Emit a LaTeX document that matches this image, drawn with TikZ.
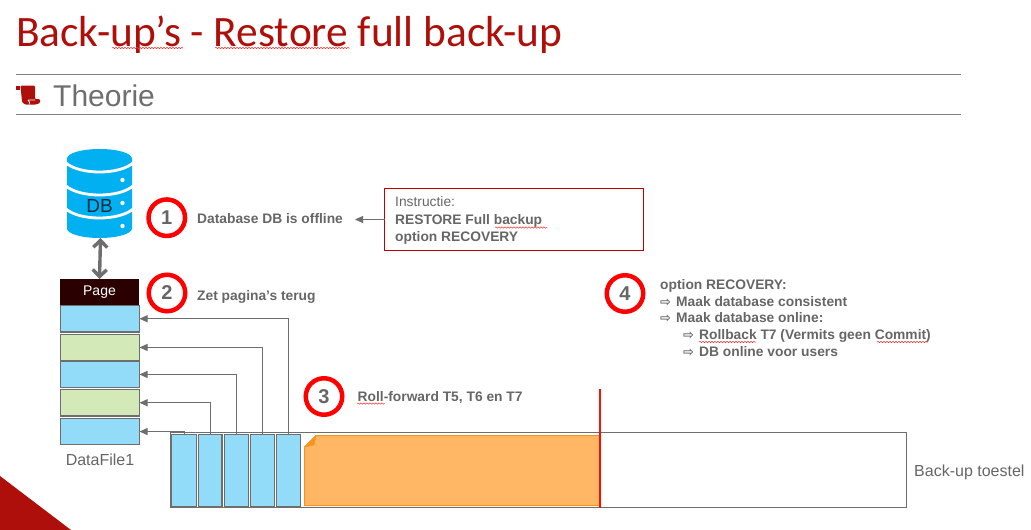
\documentclass[tikz,border=0pt]{standalone}
\usepackage{fontspec}
\setmainfont{Liberation Sans}
\newfontfamily\titlefont{Carlito}
\newfontfamily\symfont{DejaVu Sans}
\usetikzlibrary{arrows.meta,decorations.pathmorphing}
\definecolor{txtgray}{HTML}{666666}
\definecolor{linegray}{HTML}{6E6E6E}
\definecolor{rulegray}{HTML}{808080}
\definecolor{darkred}{HTML}{AE0F0A}
\definecolor{dbblue}{HTML}{00B0F0}
\definecolor{pageblue}{HTML}{92DCF9}
\definecolor{pagegreen}{HTML}{D3EAB8}
\definecolor{orangefill}{HTML}{FFB766}
\definecolor{orangeline}{HTML}{F7931E}
\definecolor{pagedark}{HTML}{2B0000}
\definecolor{boxred}{HTML}{C00000}
\newcommand{\fs}[1]{\fontsize{#1}{#1}\selectfont}
\newcommand{\ar}{\makebox[16pt][l]{\symfont\fs{13}⇨}}
\tikzset{
  pagebox/.style={draw=linegray,line width=1.2pt,outer sep=0pt,anchor=north west,inner sep=0pt,minimum width=79pt,minimum height=26.5pt},
  barbox/.style={draw=linegray,line width=1.3pt,outer sep=0pt,fill=pageblue,anchor=north west,inner sep=0pt,minimum height=72.3pt},
  stepcircle/.style={circle,draw=red,line width=4.5pt,fill=white,minimum size=36.5pt,inner sep=0pt,text=txtgray,font=\bfseries\fs{20}},
  lbl/.style={anchor=base west,inner sep=0pt,text=txtgray,font=\bfseries\fs{13.8}},
  flow/.style={draw=linegray,line width=1pt,-{Triangle[length=8pt,width=7pt]}},
  squig/.style={draw=red!80!white,line width=0.5pt,decorate,decoration={snake,amplitude=0.7pt,segment length=3pt}},
  rule/.style={draw=rulegray,line width=1pt}
}
\begin{document}
\begin{tikzpicture}[x=1pt,y=-1pt]
\useasboundingbox (0,0) rectangle (1031,530);
% corner triangle
\fill[darkred] (0,476) -- (71,530) -- (0,530) -- cycle;
% title
\node[anchor=base west,inner sep=0pt,text=darkred,font=\titlefont\fs{43.4}] (title) at (16,46.8) {Back-up’s - Restore full back-up};
\draw[squig] (112,48) -- (183,48);
\draw[squig] (215,48) -- (350,48);
\coordinate (r1a) at (16,74.5); \coordinate (r1b) at (961,74.5);
\coordinate (r2a) at (16,114.5); \coordinate (r2b) at (961,114.5);
\draw[rule] (r1a) -- (r1b);
\draw[rule] (r2a) -- (r2b);
% scroll icon
\fill[darkred] (16,86) rectangle (19.5,90);
\fill[darkred,rounded corners=1pt] (20.5,85.5) -- (35,85.5) -- (35,99) -- (40,99) -- (40,103) -- (36,104.5) -- (25,104.5) -- (22,102) -- cycle;
\draw[white,line width=0.7pt] (28,100) -- (35,100) (28,100) .. controls (30,102) and (30,103) .. (29,104.5);
\node[anchor=base west,inner sep=0pt,text=linegray,font=\fs{30}] (theorie) at (53,106) {Theorie};
% database
\fill[dbblue] (67,158.5) arc[start angle=180,end angle=360,x radius=32.5,y radius=9.5] -- (132,228.5) arc[start angle=0,end angle=180,x radius=32.5,y radius=9.5] -- cycle;
\foreach \yy in {163,186,209}{
  \draw[white,line width=2.8pt] (66,\yy) .. controls (80,{\yy+12}) and (119,{\yy+12}) .. (133,\yy);
}
\foreach \yy in {180,203,226}{ \fill[white] (122.5,\yy) circle[radius=2.2]; }
\node[inner sep=0pt,text=black!75!dbblue,font=\fs{19}] (db) at (99.5,205.5) {DB};
\coordinate (dbbottom) at (100.5,238);
% page stack
\node[anchor=north west,inner sep=0pt,outer sep=0pt,minimum width=79pt,minimum height=26pt,fill=pagedark,text=white,font=\fs{14}] (page) at (60,279) {\raisebox{-1.5pt}{Page}};
\draw[linegray,line width=3.4pt,{Straight Barb[length=7pt,width=14pt]}-{Straight Barb[length=7pt,width=14pt]}] (dbbottom) -- (page.north);
\node[pagebox,fill=pageblue] (d1) at (60.5,305.5) {};
\node[pagebox,fill=pagegreen] (d2) at (60.5,334.2) {};
\node[pagebox,fill=pageblue] (d3) at (60.5,361.2) {};
\node[pagebox,fill=pagegreen] (d4) at (60.5,389.5) {};
\node[pagebox,fill=pageblue] (d5) at (60.5,418.3) {};
\node[anchor=base,inner sep=0pt,text=txtgray,font=\fs{16}] (dflabel) at (100,465) {DataFile1};
% backup device
\node[draw=linegray,line width=1pt,outer sep=0pt,anchor=north west,inner sep=0pt,minimum width=736pt,minimum height=74.7pt] (dev) at (170.5,432.5) {};
\node[barbox,minimum width=25pt] (b1) at (171.6,434.3) {};
\node[barbox,minimum width=23.4pt] (b2) at (198.6,434.3) {};
\node[barbox,minimum width=23.4pt] (b3) at (224.8,434.3) {};
\node[barbox,minimum width=23.4pt] (b4) at (250.8,434.3) {};
\node[barbox,minimum width=23.4pt] (b5) at (276.8,434.3) {};
\draw[flow] (b1.north) |- (d5.east);
\draw[flow] (b2.north) |- (d4.east);
\draw[flow] (b3.north) |- (d3.east);
\draw[flow] (b4.north) |- (d2.east);
\draw[flow] (b5.north) |- (d1.east);
% log
\filldraw[fill=orangefill,draw=orangeline,line width=1pt] (316,435.5) -- (600,435.5) -- (600,505.5) -- (304.5,505.5) -- (304.5,447) -- cycle;
\filldraw[fill=orangeline,draw=orangeline,line width=0.5pt] (304.5,447) -- (316,435.5) -- (314,445) -- cycle;
\coordinate (cutT) at (600,389); \coordinate (cutB) at (600,508);
\draw[red!90!orange,line width=1.6pt] (cutT) -- (cutB);
\node[anchor=base west,inner sep=0pt,text=txtgray,font=\fs{16}] (toestel) at (914,476) {Back-up toestel};
% numbered circles
\node[stepcircle] (c1) at (166.8,217.7) {1};
\node[stepcircle] (c2) at (167,293) {2};
\node[stepcircle] (c3) at (324,396.5) {3};
\node[stepcircle] (c4) at (625,293.5) {4};
% labels
\node[lbl] (l1) at (197,223) {Database DB is offline};
\node[lbl] (l2) at (197,300) {Zet pagina’s terug};
\node[lbl] (l3) at (357.5,401) {Roll-forward T5, T6 en T7};
\draw[squig] (357,403.5) -- (385,403.5);
% instruction box
\node[draw=boxred,line width=1pt,outer sep=0pt,anchor=north west,inner sep=0pt,minimum width=259pt,minimum height=61.5pt] (instr) at (384.5,188.5) {};
\node[anchor=base west,inner sep=0pt,text=txtgray,font=\fs{13.8}] (i1) at (395,206.5) {Instructie:};
\node[lbl] (i2) at (395,224) {RESTORE Full backup};
\node[lbl] (i3) at (395,241) {option RECOVERY};
\draw[squig] (495,227.5) -- (547,227.5);
\coordinate (instrArrow) at (355,219.5);
\draw[draw=linegray,line width=1pt,-{Triangle[length=8pt,width=7pt]}] (instr.west |- instrArrow) -- (instrArrow);
% step 4 text
\node[lbl] (t1) at (660,289) {option RECOVERY:};
\node[lbl] (t2) at (660,306) {\ar Maak database consistent};
\node[lbl] (t3) at (660,322.5) {\ar Maak database online:};
\node[lbl] (t4) at (683,339) {\ar Rollback T7 (Vermits geen Commit)};
\node[lbl] (t5) at (683,356) {\ar DB online voor users};
\draw[squig] (699,342) -- (756,342);
\draw[squig] (877,342) -- (928,342);
\end{tikzpicture}
\end{document}
